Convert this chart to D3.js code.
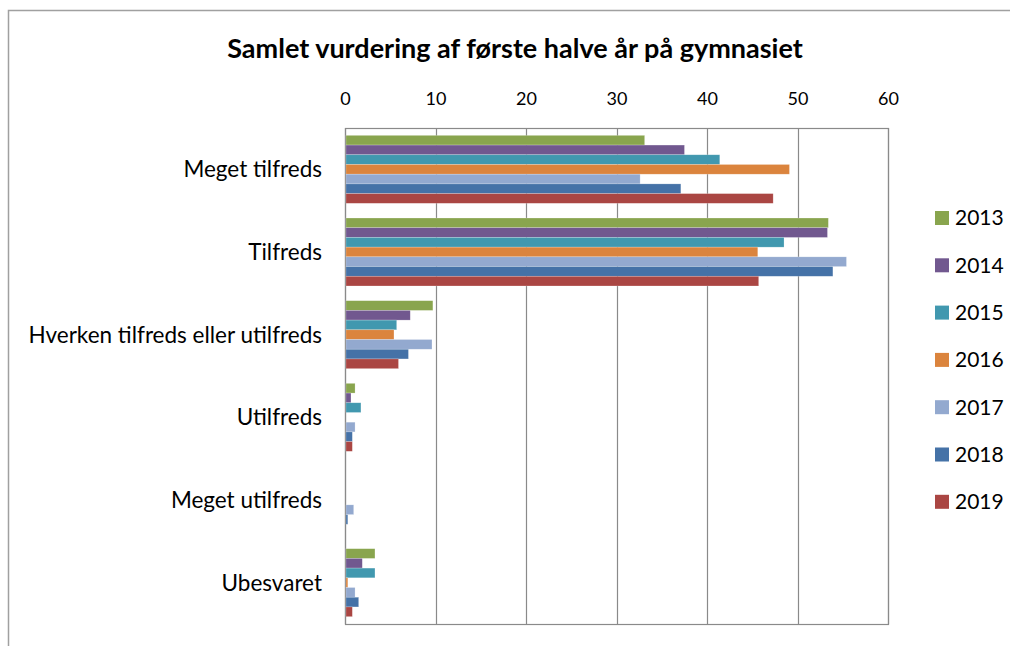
<!DOCTYPE html>
<html>
<head>
<meta charset="utf-8">
<script src="https://cdn.jsdelivr.net/npm/d3@7"></script>
<style>
  body { margin: 0; background: #fff; }
  svg { display: block; font-family: Lato, "Open Sans", sans-serif; }
</style>
</head>
<body>
<svg id="chart" width="1010" height="646"></svg>
<script>
const categories = ['Meget tilfreds', 'Tilfreds', 'Hverken tilfreds eller utilfreds', 'Utilfreds', 'Meget utilfreds', 'Ubesvaret'];
const years = ['2013', '2014', '2015', '2016', '2017', '2018', '2019'];
const colors = ['#89A54E', '#71588F', '#4198AF', '#DB843D', '#93A9CF', '#4572A7', '#AA4643'];

// values per year, in the order of categories
const v2013 = [33.0, 53.3, 9.6, 1.0, 0, 3.2];
const v2014 = [37.4, 53.2, 7.1, 0.55, 0, 1.8];
const v2015 = [41.3, 48.4, 5.6, 1.65, 0, 3.2];
const v2016 = [49.0, 45.5, 5.3, 0, 0, 0.2];
const v2017 = [32.5, 55.3, 9.5, 1.0, 0.85, 1.0];
const v2018 = [37.0, 53.8, 6.9, 0.7, 0.2, 1.4];
const v2019 = [47.2, 45.6, 5.8, 0.7, 0, 0.7];
const series = [v2013, v2014, v2015, v2016, v2017, v2018, v2019];

const tickValues = [0, 10, 20, 30, 40, 50, 60];

const svg = d3.select('#chart');

const plot = { left: 345, right: 888, top: 128, bottom: 624 };

// outer frame
svg.append('path')
    .attr('d', 'M8.5,646 V10.5 H1010')
    .attr('fill', 'none')
    .attr('stroke', '#a0a0a0')
    .attr('stroke-width', 1.5);

svg.append('text')
    .attr('x', 515)
    .attr('y', 58)
    .attr('text-anchor', 'middle')
    .style('font-size', '27px')
    .style('font-weight', 'bold')
    .text('Samlet vurdering af første halve år på gymnasiet');

const x = d3.scaleLinear().domain([0, 60]).range([plot.left, plot.right]);
const y = d3.scaleBand().domain(categories).range([plot.top, plot.bottom])
    .paddingInner(0.178).paddingOuter(0.089);
const yInner = d3.scaleBand().domain(years).range([0, y.bandwidth()]);

// gridlines
svg.append('g')
    .selectAll('line')
    .data(tickValues)
    .join('line')
    .attr('x1', d => Math.round(x(d)) + 0.5)
    .attr('x2', d => Math.round(x(d)) + 0.5)
    .attr('y1', plot.top)
    .attr('y2', plot.bottom)
    .attr('stroke', '#8a8a8a')
    .attr('stroke-width', 1.2);

svg.append('rect')
    .attr('x', plot.left + 0.5)
    .attr('y', plot.top + 0.5)
    .attr('width', plot.right - plot.left)
    .attr('height', plot.bottom - plot.top)
    .attr('fill', 'none')
    .attr('stroke', '#8a8a8a')
    .attr('stroke-width', 1.2);

// top axis labels
const axis = svg.append('g')
    .attr('transform', `translate(0,${plot.top - 23})`)
    .call(d3.axisTop(x).tickValues(tickValues).tickSize(0).tickPadding(0));
axis.select('.domain').remove();
axis.selectAll('text')
    .attr('fill', '#000')
    .style('font-family', 'Lato, sans-serif')
    .style('font-size', '18px');

// bars
const groups = svg.append('g')
    .selectAll('g')
    .data(years)
    .join('g')
    .attr('fill', (d, i) => colors[i]);

groups.selectAll('rect')
    .data((yr, i) => categories.map((c, j) => ({ cat: c, yr: yr, value: series[i][j] })))
    .join('rect')
    .attr('x', x(0) + 1)
    .attr('y', d => y(d.cat) + yInner(d.yr))
    .attr('width', d => Math.max(0, x(d.value) - x(0)))
    .attr('height', yInner.bandwidth())
    .attr('stroke', 'rgba(255,255,255,0.35)')
    .attr('stroke-width', 0.6);

// category labels
svg.append('g')
    .selectAll('text')
    .data(categories)
    .join('text')
    .attr('x', 322)
    .attr('y', d => y(d) + y.bandwidth() / 2)
    .attr('dy', '0.35em')
    .attr('text-anchor', 'end')
    .style('font-size', '22.5px')
    .text(d => d);

// legend
const legend = svg.append('g')
    .selectAll('g')
    .data(years)
    .join('g')
    .attr('transform', (d, i) => `translate(935,${218 + i * 47.3})`);

legend.append('rect')
    .attr('x', 0)
    .attr('y', -7)
    .attr('width', 14)
    .attr('height', 14)
    .attr('fill', (d, i) => colors[i]);

legend.append('text')
    .attr('x', 20)
    .attr('y', 0)
    .attr('dy', '0.35em')
    .style('font-size', '21px')
    .text(d => d);
</script>
</body>
</html>
